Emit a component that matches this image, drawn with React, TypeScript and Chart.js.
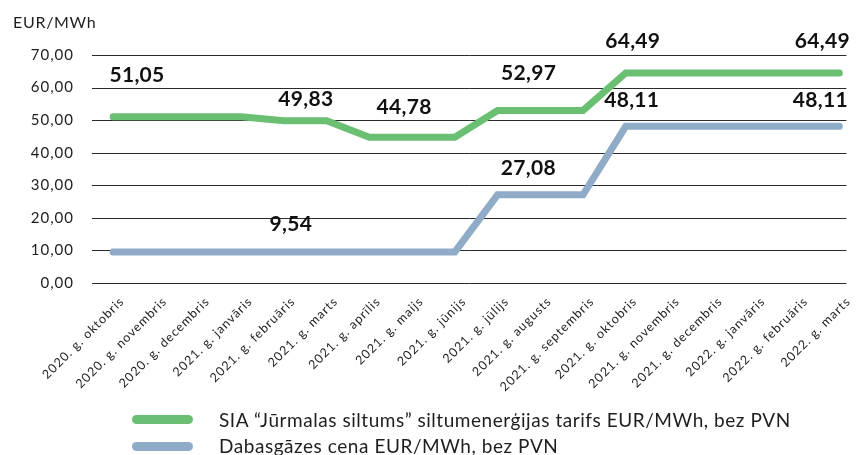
import React, { useEffect, useRef } from 'react';
import { Chart, registerables } from 'chart.js';

Chart.register(...registerables);

const categories: string[] = [
  '2020. g. oktobris', '2020. g. novembris', '2020. g. decembris',
  '2021. g. janvāris', '2021. g. februāris', '2021. g. marts',
  '2021. g. aprīlis', '2021. g. maijs', '2021. g. jūnijs',
  '2021. g. jūlijs', '2021. g. augusts', '2021. g. septembris',
  '2021. g. oktobris', '2021. g. novembris', '2021. g. decembris',
  '2022. g. janvāris', '2022. g. februāris', '2022. g. marts',
];

const tariffValues: number[] = [
  51.05, 51.05, 51.05, 51.05, 49.83, 49.83, 44.78, 44.78, 44.78,
  52.97, 52.97, 52.97, 64.49, 64.49, 64.49, 64.49, 64.49, 64.49,
];

const gasValues: number[] = [
  9.54, 9.54, 9.54, 9.54, 9.54, 9.54, 9.54, 9.54, 9.54,
  27.08, 27.08, 27.08, 48.11, 48.11, 48.11, 48.11, 48.11, 48.11,
];

const seriesNames: string[] = [
  'SIA \u201cJūrmalas siltums\u201d siltumenerģijas tarifs EUR/MWh, bez PVN',
  'Dabasgāzes cena EUR/MWh, bez PVN',
];

const yTickValues: number[] = [0, 10, 20, 30, 40, 50, 60, 70];
const unitLabel = 'EUR/MWh';

// which points carry a value label
const tariffLabelIndex: number[] = [0, 4, 7, 9, 12, 17];
const gasLabelIndex: number[] = [4, 10, 12, 17];

// label placement (style only)
const tariffLabelOffset: [number, number][] = [[24, -41], [22, -21], [-8, -30], [31, -37], [7, -32], [-17, -32]];
const gasLabelOffset: [number, number][] = [[7, -28], [-12, -27], [6, -26], [-19, -26]];

const GREEN = '#6BBF73';
const BLUE = '#8FABC7';
const TEXT = '#1e1e1e';
const FONT = 'Lato, "Noto Sans", sans-serif';

const fmt = (v: number) => v.toFixed(2).replace('.', ',');

const extrasPlugin = {
  id: 'extras',
  beforeDraw(chart: any) {
    chart.ctx.letterSpacing = '1px';
  },
  beforeDatasetsDraw(chart: any) {
    const { ctx, chartArea, scales } = chart;
    const y = scales.y;
    ctx.save();
    ctx.strokeStyle = '#2a2a2a';
    ctx.lineWidth = 1;
    yTickValues.forEach((v) => {
      const py = Math.round(y.getPixelForValue(v)) + 0.5;
      ctx.beginPath();
      ctx.moveTo(chartArea.left - 21, py);
      ctx.lineTo(chartArea.right + 7, py);
      ctx.stroke();
    });
    ctx.fillStyle = TEXT;
    ctx.font = `16px ${FONT}`;
    ctx.letterSpacing = '0.7px';
    ctx.textAlign = 'left';
    ctx.textBaseline = 'middle';
    ctx.fillText(unitLabel, chartArea.left - 100, chartArea.top - 32);
    ctx.restore();
  },
  afterDatasetsDraw(chart: any) {
    const { ctx } = chart;
    ctx.save();
    ctx.fillStyle = '#111';
    ctx.font = `bold 21px ${FONT}`;
    ctx.letterSpacing = '0.3px';
    ctx.textAlign = 'center';
    ctx.textBaseline = 'middle';
    const draw = (dsIndex: number, idxs: number[], offs: [number, number][], values: number[]) => {
      const meta = chart.getDatasetMeta(dsIndex);
      idxs.forEach((i, k) => {
        const el = meta.data[i];
        ctx.fillText(fmt(values[i]), el.x + offs[k][0], el.y + offs[k][1]);
      });
    };
    draw(0, tariffLabelIndex, tariffLabelOffset, tariffValues);
    draw(1, gasLabelIndex, gasLabelOffset, gasValues);
    ctx.restore();
  },
};

export default function App() {
  const canvasRef = useRef<HTMLCanvasElement | null>(null);

  useEffect(() => {
    if (!canvasRef.current) return;
    const chart = new Chart(canvasRef.current, {
      type: 'line',
      data: {
        labels: categories,
        datasets: [
          {
            label: seriesNames[0],
            data: tariffValues,
            borderColor: GREEN,
            backgroundColor: GREEN,
            borderWidth: 7,
            borderCapStyle: 'round',
            borderJoinStyle: 'miter',
            pointRadius: 0,
            tension: 0,
            fill: false,
          },
          {
            label: seriesNames[1],
            data: gasValues,
            borderColor: BLUE,
            backgroundColor: BLUE,
            borderWidth: 7,
            borderCapStyle: 'round',
            borderJoinStyle: 'miter',
            pointRadius: 0,
            tension: 0,
            fill: false,
          },
        ],
      },
      options: {
        animation: false,
        responsive: false,
        maintainAspectRatio: false,
        layout: { padding: { top: 55, right: 16, bottom: 0, left: 0 } },
        plugins: {
          legend: { display: false },
          tooltip: { enabled: false },
          title: { display: false },
        },
        scales: {
          x: {
            offset: false,
            grid: { display: false, drawTicks: false },
            border: { display: false },
            ticks: {
              autoSkip: false,
              maxRotation: 45,
              minRotation: 45,
              padding: 11,
              labelOffset: 9,
              color: TEXT,
              font: { family: FONT, size: 12.5 },
            },
            afterFit: (scale: any) => {
              scale.height = 172;
            },
          },
          y: {
            min: 0,
            max: 70,
            grid: { display: false, drawTicks: false },
            border: { display: false },
            ticks: {
              stepSize: 10,
              padding: 39,
              color: TEXT,
              font: { family: FONT, size: 15 },
              callback: (v: any) => fmt(Number(v)),
            },
            afterFit: (scale: any) => {
              scale.width = 113;
            },
          },
        },
      },
      plugins: [extrasPlugin],
    });
    return () => chart.destroy();
  }, []);

  const legendTops = [419.5, 446];
  const legendColors = [GREEN, BLUE];

  return (
    <div style={{ position: 'absolute', left: 0, top: 0, width: 861, height: 455, background: '#fff', overflow: 'hidden' }}>
      <canvas ref={canvasRef} width={861} height={455} style={{ display: 'block' }} />
      {seriesNames.map((name, i) => (
        <div key={i}>
          <div
            style={{
              position: 'absolute',
              left: 132,
              top: legendTops[i] - 4.5,
              width: 61,
              height: 9,
              borderRadius: 4.5,
              background: legendColors[i],
            }}
          />
          <div
            style={{
              position: 'absolute',
              left: 219,
              top: legendTops[i] - 12,
              height: 24,
              lineHeight: '24px',
              fontFamily: FONT,
              fontSize: 19,
              letterSpacing: '0.55px',
              color: TEXT,
              whiteSpace: 'nowrap',
            }}
          >
            {name}
          </div>
        </div>
      ))}
    </div>
  );
}
